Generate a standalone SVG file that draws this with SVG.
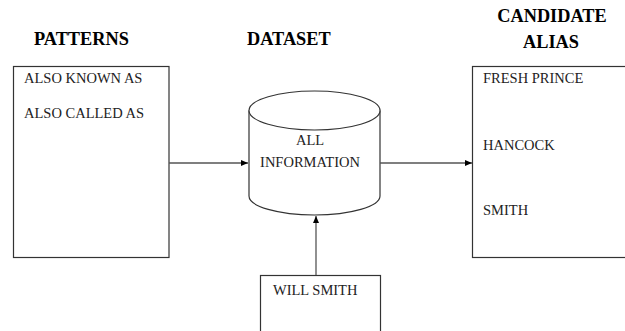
<svg xmlns="http://www.w3.org/2000/svg" width="625" height="331" viewBox="0 0 625 331">
<style>
.t{font-family:"Liberation Serif","Times New Roman",serif;font-size:14.5px;fill:#222}
.h{font-family:"Liberation Serif","Times New Roman",serif;font-size:18.3px;font-weight:bold;fill:#000}
.box{fill:#fff;stroke:#333;stroke-width:1.2}
.ln{stroke:#555;stroke-width:1.3;fill:none}
</style>
<defs>
<marker id="ah" markerWidth="7" markerHeight="6" refX="7" refY="3" orient="auto" markerUnits="userSpaceOnUse">
<path d="M0,0 L7,3 L0,6 Z" fill="#000"/>
</marker>
</defs>
<rect width="625" height="331" fill="#fff"/>
<g id="headings">
<text class="h" x="34" y="45">PATTERNS</text>
<text class="h" x="247" y="45">DATASET</text>
<text class="h" x="552" y="22" text-anchor="middle">CANDIDATE</text>
<text class="h" x="551" y="48" text-anchor="middle">ALIAS</text>
</g>
<g id="patterns">
<rect class="box" x="13.5" y="66.5" width="155.5" height="191"/>
<text class="t" x="24" y="83">ALSO KNOWN AS</text>
<text class="t" x="24" y="118">ALSO CALLED AS</text>
</g>
<g id="dataset">
<path class="box" d="M249,110.5 L249,196 A65.5,19 0 0 0 380,196 L380,110.5"/>
<ellipse class="box" cx="314.5" cy="110.5" rx="65.5" ry="19.5"/>
<text class="t" x="310" y="145" text-anchor="middle">ALL</text>
<text class="t" x="310" y="167" text-anchor="middle">INFORMATION</text>
</g>
<g id="candidates">
<rect class="box" x="472.5" y="66.5" width="160" height="191"/>
<text class="t" x="483" y="83">FRESH PRINCE</text>
<text class="t" x="483" y="150">HANCOCK</text>
<text class="t" x="483" y="215">SMITH</text>
</g>
<g id="willsmith">
<rect class="box" x="260.5" y="275.5" width="120" height="70"/>
<text class="t" x="273" y="295">WILL SMITH</text>
</g>
<g id="connectors">
<line class="ln" x1="169" y1="163" x2="248" y2="163" marker-end="url(#ah)"/>
<line class="ln" x1="380" y1="163" x2="472" y2="163" marker-end="url(#ah)"/>
<line class="ln" x1="316" y1="275" x2="316" y2="216" marker-end="url(#ah)"/>
</g>
</svg>
